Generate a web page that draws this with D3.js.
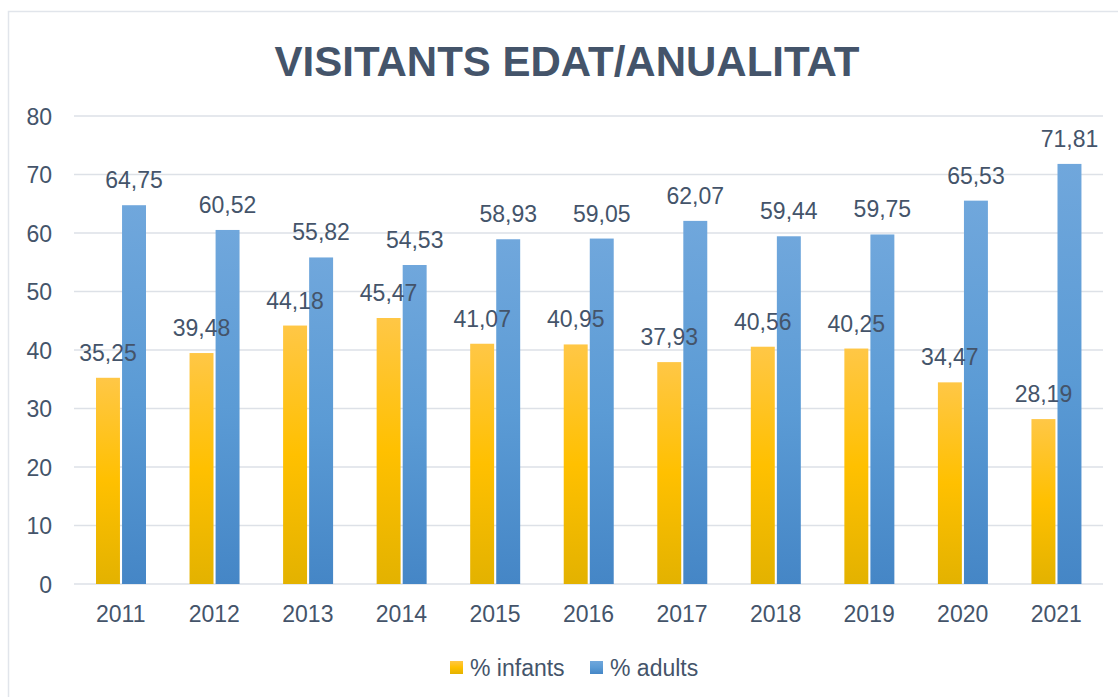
<!DOCTYPE html>
<html lang="ca">
<head>
<meta charset="utf-8">
<title>Visitants edat/anualitat</title>
<script src="https://d3js.org/d3.v7.min.js"></script>
<style>
  body { margin: 0; background: #fff; }
  text { font-family: "Liberation Sans", Arial, sans-serif; fill: #44546a; }
</style>
</head>
<body>
<svg id="chart" width="1118" height="697"></svg>
<script>
// dades
var anys = ["2011","2012","2013","2014","2015","2016","2017","2018","2019","2020","2021"];
var infants = [35.25, 39.48, 44.18, 45.47, 41.07, 40.95, 37.93, 40.56, 40.25, 34.47, 28.19];
var adults = [64.75, 60.52, 55.82, 54.53, 58.93, 59.05, 62.07, 59.44, 59.75, 65.53, 71.81];
var series = ["% infants", "% adults"];
var yTicks = [0, 10, 20, 30, 40, 50, 60, 70, 80];

var svg = d3.select("#chart");
var W = 1118, H = 697;
var m = {left: 74, right: 15, top: 116, bottom: 113};

// gradients
var defs = svg.append("defs");
function grad(id, c1, c2, c3) {
  var g = defs.append("linearGradient").attr("id", id)
    .attr("x1", 0).attr("y1", 0).attr("x2", 0).attr("y2", 1);
  g.append("stop").attr("offset", "0%").attr("stop-color", c1);
  g.append("stop").attr("offset", "50%").attr("stop-color", c2);
  g.append("stop").attr("offset", "100%").attr("stop-color", c3);
}
grad("gInf", "#ffc746", "#ffc000", "#e3b200");
grad("gAdu", "#70a7dc", "#5b9bd5", "#4586c6");
var fills = ["url(#gInf)", "url(#gAdu)"];

// frame
svg.append("path").attr("d", "M8.5," + H + "V11.5H" + W)
  .attr("fill", "none").attr("stroke", "#e1e5eb").attr("stroke-width", 1.5);

svg.append("text").attr("x", 567).attr("y", 76)
  .attr("text-anchor", "middle").attr("font-size", 42).attr("font-weight", "bold")
  .text("VISITANTS EDAT/ANUALITAT");

var x = d3.scaleBand().domain(anys).range([m.left, W - m.right]).paddingInner(0).paddingOuter(0);
var y = d3.scaleLinear().domain([0, 80]).range([H - m.bottom, m.top]);
var xs = d3.scaleBand().domain([0, 1]).range([22, 72]).paddingInner(0.08);

// gridlines
svg.append("g").selectAll("line").data(yTicks).join("line")
  .attr("x1", m.left).attr("x2", W - m.right)
  .attr("y1", d => y(d)).attr("y2", d => y(d))
  .attr("stroke", "#dde1e7").attr("stroke-width", 1.5);

// y axis
var ya = svg.append("g").attr("transform", "translate(" + (m.left - 22) + ",0)")
  .call(d3.axisLeft(y).tickValues(yTicks).tickSize(0).tickPadding(0));
ya.select(".domain").remove();
ya.selectAll("text").attr("font-size", 23).attr("dy", "0.35em")
  .style("font-family", "Liberation Sans, Arial, sans-serif").attr("fill", "#44546a");

// x axis
var xa = svg.append("g").attr("transform", "translate(0," + (H - m.bottom) + ")")
  .call(d3.axisBottom(x).tickSize(0).tickPadding(22));
xa.select(".domain").remove();
xa.selectAll("text").attr("font-size", 23).attr("dy", "0.71em")
  .style("font-family", "Liberation Sans, Arial, sans-serif").attr("fill", "#44546a");

var fmt = d => d.toFixed(2).replace(".", ",");
var data = [infants, adults];
var bars = svg.append("g"), labels = svg.append("g");
data.forEach(function(vals, si) {
  bars.append("g").selectAll("rect").data(vals).join("rect")
    .attr("x", (d, i) => x(anys[i]) + xs(si))
    .attr("width", xs.bandwidth())
    .attr("y", d => y(d))
    .attr("height", d => y(0) - y(d))
    .attr("fill", fills[si]);
  labels.append("g").selectAll("text").data(vals).join("text")
    .attr("x", (d, i) => x(anys[i]) + xs(si) + xs.bandwidth() / 2)
    .attr("y", d => y(d) - 17)
    .attr("text-anchor", "middle").attr("font-size", 23)
    .text(fmt);
});

// legend
var leg = svg.append("g").attr("transform", "translate(450,668)");
var lx = [0, 140];
series.forEach(function(s, i) {
  leg.append("rect").attr("x", lx[i]).attr("y", -7).attr("width", 13).attr("height", 13)
    .attr("fill", fills[i]);
  leg.append("text").attr("x", lx[i] + 20).attr("y", 0).attr("dy", "0.35em")
    .attr("font-size", 23).text(s);
});
</script>
</body>
</html>
